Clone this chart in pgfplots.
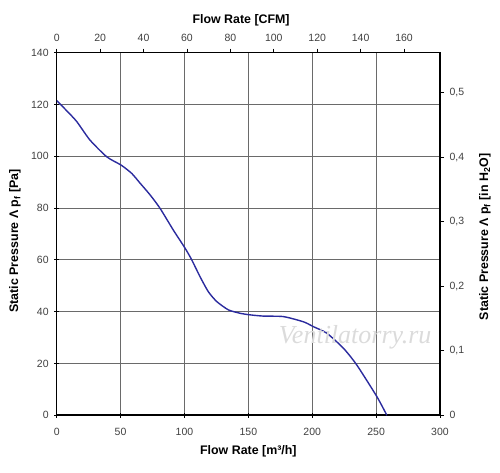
\documentclass[border=0pt]{standalone}
\usepackage{pgfplots}
\pgfplotsset{compat=1.18}
\usepackage{fontspec}
\setmainfont{Liberation Sans}
\newfontfamily\wmfont{Liberation Serif}
\definecolor{curve}{HTML}{2B2B9E}
\definecolor{tick}{HTML}{404040}
\definecolor{gridc}{HTML}{6A6A6A}
\begin{document}
\begin{tikzpicture}
\begin{axis}[
  at={(0,0)}, anchor=origin,
  scale only axis, width=383.3pt, height=362.6pt,
  xmin=0, xmax=300, ymin=0, ymax=140,
  xtick={0,50,...,300}, ytick={0,20,...,140},
  xtick pos=bottom, ytick pos=left,
  tick align=center, major tick length=5pt,
  tick style={black, line width=0.9pt},
  grid=major, major grid style={gridc, line width=0.9pt},
  axis line style={black, line width=1.6pt},
  /pgf/number format/assume math mode=true,
  ticklabel style={font=\fontsize{10.5}{12}\selectfont, text=tick},
  xticklabel style={yshift=-7pt},
  yticklabel style={xshift=-2pt},
  xlabel={Flow Rate [m³/h]},
  ylabel={Static Pressure Λ p\textsubscript{f} [Pa]},
  label style={font=\bfseries\fontsize{12.4}{14}\selectfont},
  xlabel style={at={(axis description cs:0.5,0)}, anchor=center, yshift=-36.4pt},
  ylabel style={at={(axis description cs:0,0.481)}, anchor=center, yshift=41.7pt},
]
\addplot[curve, line width=1.4pt, smooth, tension=0.4] coordinates {
(0,121.5) (8,117.5) (15.7,113.4) (26,106.3) (39.2,99.8) (50.4,96.6)
(58.7,93.4) (65.3,89.6) (73.1,85.1) (80.9,79.9) (91.3,71.5) (100.5,64.5)
(105.7,60) (112.2,53.5) (118.7,47.7) (125.3,43.9) (134.4,40.7)
(143.5,39.4) (151,38.8) (161.8,38.3)
(177.5,38.1) (193.1,36.1) (201,34.2) (211.4,31.7) (224.4,25.9)
(234.9,19.4) (250.6,7.2) (258.4,0)
};
\node[font=\wmfont\itshape\fontsize{26}{28}\selectfont, text=gray!28] at (axis cs:233.6,30.2) {Ventilatorry.ru};
\end{axis}
\begin{axis}[
  at={(0,0)}, anchor=origin,
  scale only axis, width=383.3pt, height=362.6pt,
  xmin=0, xmax=176.57, ymin=0, ymax=0.56205,
  xtick={0,20,...,160}, ytick={0,0.1,...,0.5},
  xtick pos=top, ytick pos=right,
  xticklabel pos=top, yticklabel pos=right,
  tick align=outside, major tick length=4pt,
  tick style={black, line width=0.9pt},
  axis line style={draw=none},
  /pgf/number format/assume math mode=true,
  /pgf/number format/use comma,
  ticklabel style={font=\fontsize{10.5}{12}\selectfont, text=tick},
  xticklabel style={yshift=4pt},
  yticklabel style={xshift=2pt},
  xlabel={Flow Rate [CFM]},
  ylabel={Static Pressure Λ p\textsubscript{f} [in H\textsubscript{2}O]},
  label style={font=\bfseries\fontsize{12.4}{14}\selectfont},
  xlabel style={at={(axis description cs:0.481,1)}, anchor=center, yshift=32pt},
  ylabel style={at={(axis description cs:1,0.492)}, anchor=center, yshift=-45pt},
]
\end{axis}
\pgfresetboundingbox
\useasboundingbox (-56.7pt,-57.7pt) rectangle (443.3pt,415.3pt);
\end{tikzpicture}
\end{document}
